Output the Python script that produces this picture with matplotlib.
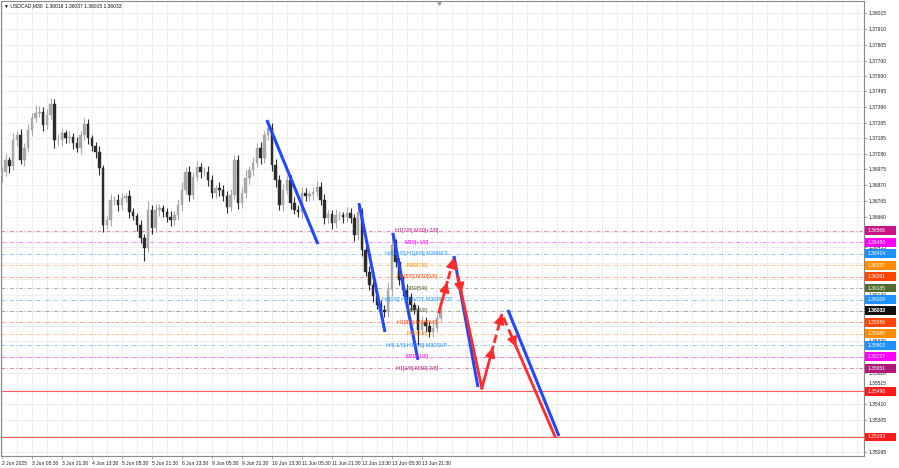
import matplotlib
matplotlib.use("Agg")
import matplotlib.pyplot as plt
import matplotlib.transforms as mtrans
from matplotlib.patches import Rectangle

plt.rcParams['font.family'] = ['Liberation Sans', 'DejaVu Sans']

# ---------------- data ----------------
title_text = "\u25bc USDCAD,M30  1.36018 1.36037 1.36015 1.36033"

first_open = 1.36930
closes = [
    1.36958, 1.37038, 1.36998, 1.37171, 1.37204, 1.37038, 1.37118, 1.37238, 1.37318, 1.37351,
    1.37358, 1.37271, 1.37338, 1.37411, 1.37171, 1.37171, 1.37218, 1.37184, 1.37191, 1.37151,
    1.37118, 1.37204, 1.37278, 1.37184, 1.37131, 1.37091, 1.36985, 1.36605, 1.36638, 1.36771,
    1.36771, 1.36738, 1.36785, 1.36798, 1.36691, 1.36665, 1.36605, 1.36518, 1.36452, 1.36705,
    1.36585, 1.36705, 1.36718, 1.36691, 1.36658, 1.36638, 1.36671, 1.36738, 1.36838, 1.36958,
    1.36805, 1.36925, 1.36991, 1.36958, 1.36958, 1.36905, 1.36818, 1.36851, 1.36838, 1.36798,
    1.36725, 1.36805, 1.37038, 1.36751, 1.36818, 1.36918, 1.36971, 1.37018, 1.37118, 1.37051,
    1.37204, 1.37251, 1.37005, 1.36905, 1.36738, 1.36838, 1.36905, 1.36751, 1.36705, 1.36691,
    1.36818, 1.36798, 1.36811, 1.36825, 1.36858, 1.36771, 1.36651, 1.36678, 1.36618, 1.36671,
    1.36671, 1.36658, 1.36685, 1.36651, 1.36538, 1.36691, 1.36438, 1.36292, 1.36205, 1.36132,
    1.36072, 1.36039, 1.36025, 1.36172, 1.36472, 1.36358, 1.36238, 1.36172, 1.36125, 1.36072,
    1.36039, 1.35905, 1.35959, 1.35932, 1.35892, 1.35919, 1.35985, 1.36033,
]
# wick extensions beyond the body, in pips
up_wick = [
    3, 4, 2, 5, 3, 4, 3, 4, 3, 5,
    4, 3, 4, 4, 3, 4, 3, 2, 4, 3,
    4, 3, 4, 3, 2, 3, 4, 2, 3, 4,
    3, 4, 3, 2, 4, 3, 2, 3, 3, 6,
    3, 4, 3, 2, 3, 4, 3, 4, 5, 3,
    4, 3, 4, 3, 3, 4, 3, 2, 4, 3,
    3, 4, 3, 3, 4, 5, 3, 4, 3, 4,
    3, 5, 3, 4, 3, 4, 3, 3, 4, 3,
    4, 3, 2, 3, 4, 3, 4, 3, 3, 4,
    3, 2, 4, 3, 3, 4, 3, 3, 4, 3,
    2, 3, 3, 5, 5, 4, 3, 3, 4, 3,
    2, 3, 4, 3, 3, 4, 3, 2,
]
down_wick = [
    4, 3, 5, 3, 4, 3, 4, 3, 4, 3,
    3, 4, 3, 3, 5, 3, 4, 3, 3, 4,
    3, 4, 3, 4, 3, 4, 5, 5, 3, 4,
    3, 4, 3, 3, 4, 3, 4, 3, 9, 3,
    4, 3, 4, 3, 3, 4, 3, 3, 4, 3,
    4, 3, 3, 4, 3, 4, 3, 3, 4, 3,
    4, 3, 3, 4, 3, 3, 4, 3, 3, 4,
    3, 3, 4, 5, 3, 4, 3, 4, 3, 3,
    4, 3, 3, 4, 3, 3, 4, 3, 4, 3,
    3, 4, 3, 3, 4, 3, 4, 3, 3, 4,
    3, 4, 3, 3, 4, 3, 3, 4, 3, 4,
    3, 10, 3, 4, 3, 3, 3, 2,
]
bar_hours = list(range(0, 2 * len(closes), 2))  # one candle every 2 trading hours

time_ticks = [0, 16, 32, 48, 64, 80, 96, 112, 128, 144, 160, 176, 192, 208, 224]
time_labels = ["2 Jun 2025", "3 Jun 05:30", "3 Jun 21:30", "4 Jun 13:30", "5 Jun 05:30",
               "5 Jun 21:30", "6 Jun 13:30", "9 Jun 05:30", "9 Jun 21:30", "10 Jun 13:30",
               "11 Jun 05:30", "11 Jun 21:30", "12 Jun 13:30", "13 Jun 05:30", "13 Jun 21:30"]

price_ticks = [1.38015, 1.37910, 1.37805, 1.37700, 1.37600, 1.37495, 1.37390, 1.37285,
               1.37185, 1.37080, 1.36975, 1.36870, 1.36765, 1.36660, 1.36555, 1.36455,
               1.36350, 1.36245, 1.36140, 1.36035, 1.35930, 1.35830, 1.35725, 1.35620,
               1.35515, 1.35410, 1.35305, 1.35200, 1.35095]
# tick labels that sit fully under a price tag in the reference
hidden_ticks = [1.36555, 1.36245, 1.36035, 1.35930, 1.35725, 1.35200]
# tick label that peeks out just above a tag
raised_tick = 1.35515

level_prices = [1.36566, 1.36490, 1.36414, 1.36337, 1.36261, 1.36185, 1.36108,
                1.36032, 1.35956, 1.35880, 1.35803, 1.35727, 1.35651]
level_colors = ['#c71585', '#ff00ff', '#1e90ff', '#ff8c00', '#ff4500', '#556b2f', '#1e90ff',
                '#556b2f', '#ff4500', '#ff8c00', '#1e90ff', '#ff00ff', '#b0187a']
level_texts = ['H1[7/8] M30[+2/8]', 'M30[+1/8]', 'H4[+1/8] H1[6/8] M30RES', 'M30[7/8]',
               'H1[5/8] M30[6/8]', 'M30[5/8]', 'H4[0/8] H1PIVOT M30PIVOT', 'M30[3/8]',
               'H1[3/8] M30[2/8]', 'M30[1/8]', 'H4[-1/8] H1[2/8] M30SUP', 'M30[-1/8]',
               'H1[1/8] M30[-2/8]']

target_prices = [1.35498, 1.35193]
current_price = 1.36033

blue_t0 = [141.3, 190.4, 208.5, 241.1, 269.9]
blue_p0 = [1.37304, 1.36751, 1.36552, 1.36398, 1.36039]
blue_t1 = [168.5, 204.3, 221.9, 253.9, 297.1]
blue_p1 = [1.36478, 1.35892, 1.35706, 1.35526, 1.35199]

zig_t = [233.1, 241.1, 256.0, 266.7, 294.9]
zig_p = [1.36025, 1.36385, 1.35519, 1.36012, 1.35199]

# ---------------- figure ----------------
W, H = 899, 468
fig = plt.figure(figsize=(W / 100, H / 100), dpi=100)
fig.patch.set_facecolor('white')
ax = fig.add_axes([1 / W, 12 / H, 863 / W, 455 / H])
ax.set_facecolor('white')
ax.set_xlim(-0.5, 459.8)
ax.set_ylim(1.35066, 1.38097)

# grid
for t in range(0, 464, 8):
    ax.axvline(t, color='#ebebeb', lw=0.6, zorder=0)
for p in price_ticks:
    ax.axhline(p, color='#ebebeb', lw=0.6, zorder=0)

# level lines
for p, c in zip(level_prices, level_colors):
    ax.axhline(p, color=c, lw=0.7, alpha=0.5, linestyle=(0, (4, 2, 1, 2)), zorder=1)
for p in target_prices:
    ax.axhline(p, color='#ff5a5a', lw=0.8, zorder=1)

# candles
opens = [first_open] + closes[:-1]
bull_c, bear_c = '#a8a8a8', '#2c2c2c'
for t, o, c, uw, dw in zip(bar_hours, opens, closes, up_wick, down_wick):
    col = bull_c if c >= o else bear_c
    hi = max(o, c) + uw * 0.0001
    lo = min(o, c) - dw * 0.0001
    ax.vlines(t, lo, hi, color=col, lw=0.8, zorder=3)
    h = c - o
    if abs(h) < 0.00003:
        h = 0.00003
    ax.bar(t, h, bottom=o, width=1.4, color=col, edgecolor=col, lw=0.3, zorder=3)

# level texts
for p, c, s in zip(level_prices, level_colors, level_texts):
    ax.text(221.3, p, s, color=c, fontsize=3.9, ha='center', va='center', zorder=6)

# blue lines
for t0, p0, t1, p1 in zip(blue_t0, blue_p0, blue_t1, blue_p1):
    ax.plot([t0, t1], [p0, p1], color='#2346ff', lw=2.2, solid_capstyle='butt', zorder=5)

# red zigzag forecast
red = '#ff2a2a'
def arrow_head(x0, y0, x1, y1):
    ax.annotate('', xy=(x1, y1), xytext=(x0 + (x1 - x0) * 0.8, y0 + (y1 - y0) * 0.8),
                arrowprops=dict(arrowstyle='-|>,head_length=0.55,head_width=0.28',
                                color=red, lw=1.6, shrinkA=0, shrinkB=0), zorder=6)

for k in range(len(zig_t) - 1):
    ta, pa, tb, pb = zig_t[k], zig_p[k], zig_t[k + 1], zig_p[k + 1]
    if pb > pa:   # up leg: solid then dashed
        f = 0.55
        tm, pm = ta + (tb - ta) * f, pa + (pb - pa) * f
        ax.plot([ta, tm], [pa, pm], color=red, lw=2.0, zorder=6)
        arrow_head(ta, pa, tm, pm)
        tn, pn = ta + (tb - ta) * (f + 0.06), pa + (pb - pa) * (f + 0.06)
        ax.plot([tn, tb], [pn, pb], color=red, lw=2.0, linestyle=(0, (3, 1.6)), zorder=6)
        arrow_head(tn, pn, tb, pb)
    else:         # down leg: dashed then solid
        f = 0.27
        tn, pn = ta + (tb - ta) * 0.03, pa + (pb - pa) * 0.03
        tm, pm = ta + (tb - ta) * f, pa + (pb - pa) * f
        ax.plot([tn, tm], [pn, pm], color=red, lw=2.0, linestyle=(0, (3, 1.6)), zorder=6)
        arrow_head(tn, pn, tm, pm)
        ax.plot([tm, tb], [pm, pb], color=red, lw=2.0, zorder=6)

# axes styling
for s in ax.spines.values():
    s.set_color('#8a8a8a')
    s.set_linewidth(0.8)
ax.yaxis.tick_right()
ax.set_yticks(price_ticks)
ax.set_yticklabels(["" if p in hidden_ticks else f"{p:.5f}" for p in price_ticks])
ax.set_xticks(time_ticks)
ax.set_xticklabels(time_labels)
ax.tick_params(axis='y', length=2, width=0.5, color='#8a8a8a', labelsize=3.6, pad=1.5,
               labelcolor='#222222')
ax.tick_params(axis='x', length=2, width=0.5, color='#8a8a8a', labelsize=3.6, pad=1.5,
               labelcolor='#222222')
for lab in ax.get_xticklabels():
    lab.set_horizontalalignment('left')
for p, lab in zip(price_ticks, ax.get_yticklabels()):
    if p == raised_tick:
        lab.set_transform(lab.get_transform() +
                          mtrans.ScaledTranslation(0, 5.5 / 100, fig.dpi_scale_trans))

# price tags on the right axis
blend = mtrans.blended_transform_factory(ax.transAxes, ax.transData)
tag_w = 31 / 863
tag_h = 0.00058
def price_tag(p, color, tcolor='white'):
    ax.add_patch(Rectangle((1.0015, p - tag_h / 2), tag_w, tag_h, transform=blend,
                           facecolor=color, edgecolor='none', clip_on=False, zorder=20))
    ax.text(1.0045, p, f"{p:.5f}", transform=blend, color=tcolor, fontsize=3.6,
            ha='left', va='center', clip_on=False, zorder=21)

for p, c in zip(level_prices, level_colors):
    price_tag(p, c)
price_tag(current_price, '#111111')
for p in target_prices:
    price_tag(p, '#ff1a1a')

# small scroll marker at the top centre
ax.plot([0.508], [0.996], marker='v', markersize=2.5, color='#9a9a9a',
        transform=ax.transAxes, clip_on=False, zorder=10)

# title
ax.text(0.003, 0.994, title_text, transform=ax.transAxes, fontsize=3.6, color='#111111',
        ha='left', va='top', zorder=10)

fig.savefig('out.png', dpi=100)
